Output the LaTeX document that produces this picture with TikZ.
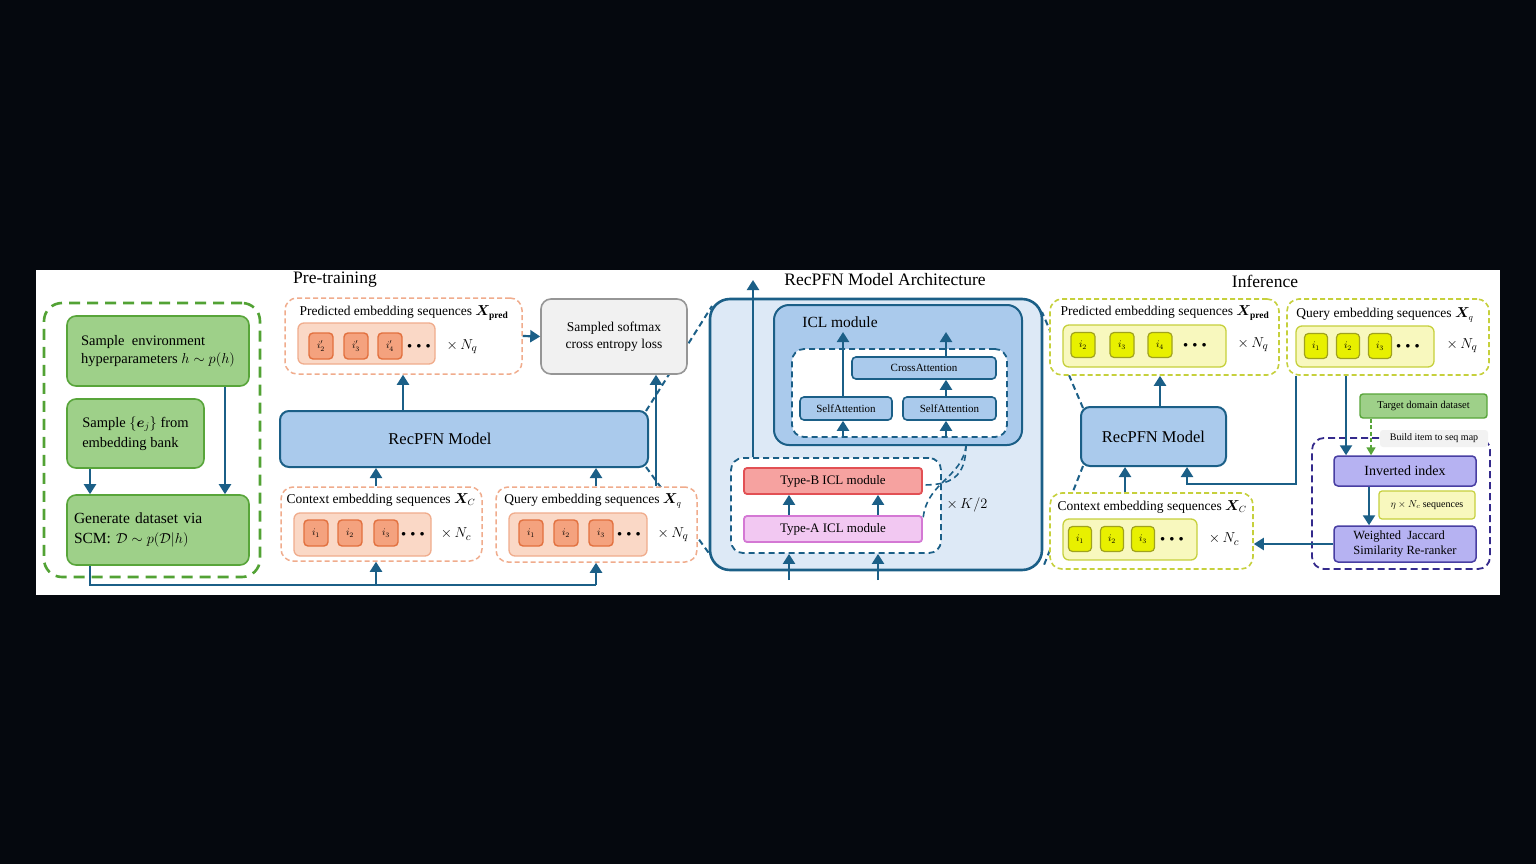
\documentclass[tikz,border=0pt]{standalone}
\usepackage{amsmath,bm}
\usepackage{fontspec}
\setmainfont{Liberation Serif}
\usetikzlibrary{arrows.meta}
\definecolor{bgk}{RGB}{5,8,14}
\definecolor{ablue}{RGB}{27,95,135}
\definecolor{gfill}{RGB}{158,208,137}
\definecolor{gbord}{RGB}{88,165,58}
\definecolor{gdash}{RGB}{82,162,52}
\definecolor{odash}{RGB}{240,172,140}
\definecolor{ofill}{RGB}{250,216,198}
\definecolor{osq}{RGB}{244,162,126}
\definecolor{osqb}{RGB}{226,112,62}
\definecolor{lossf}{RGB}{241,241,241}
\definecolor{lossb}{RGB}{150,150,150}
\definecolor{rfill}{RGB}{170,202,236}
\definecolor{archf}{RGB}{221,233,246}
\definecolor{tbf}{RGB}{246,162,160}
\definecolor{tbb}{RGB}{226,80,84}
\definecolor{taf}{RGB}{242,200,242}
\definecolor{tab}{RGB}{212,120,212}
\definecolor{ydash}{RGB}{198,208,60}
\definecolor{yfill}{RGB}{248,248,190}
\definecolor{ysq}{RGB}{232,240,0}
\definecolor{ysqb}{RGB}{160,162,30}
\definecolor{pfill}{RGB}{182,178,242}
\definecolor{pbord}{RGB}{72,62,162}
\definecolor{pdash}{RGB}{52,42,140}
\definecolor{lblg}{RGB}{242,242,242}
\newcommand{\bdots}{$\bullet\mkern5mu\bullet\mkern5mu\bullet$}
\begin{document}
\begin{tikzpicture}[x=1pt,y=-1pt,
  arr/.style={draw=ablue,line width=2.2pt,-{Triangle[width=12pt,length=10pt]}},
  ln/.style={draw=ablue,line width=2.2pt},
  zoomln/.style={draw=ablue,line width=2pt,dash pattern=on 6pt off 4pt},
  box/.style={rectangle,inner sep=0pt,align=center,font=\fontsize{12}{14}\selectfont},
  gbox/.style={box,draw=gbord,fill=gfill,line width=1.6pt,rounded corners=9pt,align=left},
  gdashbox/.style={box,draw=gdash,line width=2.6pt,dash pattern=on 11pt off 7pt,rounded corners=18pt},
  odashbox/.style={box,draw=odash,fill=white,line width=1.5pt,dash pattern=on 5pt off 3pt,rounded corners=12pt},
  oinner/.style={box,draw=odash,fill=ofill,line width=1.3pt,rounded corners=6pt},
  osqr/.style={box,draw=osqb,fill=osq,line width=1.4pt,rounded corners=4pt,minimum width=24pt,minimum height=26pt,font=\fontsize{10}{11}\selectfont},
  ydashbox/.style={box,draw=ydash,fill=white,line width=1.6pt,dash pattern=on 5pt off 3pt,rounded corners=12pt},
  yinner/.style={box,draw=ydash,fill=yfill,line width=1.3pt,rounded corners=6pt},
  ysqr/.style={box,draw=ysqb,fill=ysq,line width=1.2pt,rounded corners=4pt,minimum width=24pt,minimum height=25pt,font=\fontsize{10}{11}\selectfont},
  rbox/.style={box,draw=ablue,fill=rfill,line width=2pt,rounded corners=9pt},
  attn/.style={box,draw=ablue,fill=rfill,line width=1.6pt,rounded corners=4pt,font=\fontsize{11}{13}\selectfont},
  bdash/.style={box,draw=ablue,line width=1.8pt,dash pattern=on 6pt off 4pt,rounded corners=12pt,fill=white},
  pbox/.style={box,draw=pbord,fill=pfill,line width=1.5pt,rounded corners=4pt},
  ttl/.style={box,font=\fontsize{17.5}{20}\selectfont},
  captx/.style={box,font=\fontsize{13.5}{15}\selectfont},
  dotsx/.style={box,font=\fontsize{9}{10}\selectfont},
  tms/.style={box,font=\fontsize{15}{16}\selectfont}
]
\useasboundingbox (0,0) rectangle (1536,864);
\fill[bgk] (0,0) rectangle (1536,864);
\fill[white] (36,270) rectangle (1500,595);

% ================= Titles
\node[ttl] (tpre) at (335,280) {Pre-training};
\node[ttl] (tarch) at (885,280) {RecPFN Model Architecture};
\node[ttl] (tinf) at (1265,281) {Inference};

% ================= zoom lines (behind boxes)
\coordinate (zA) at (712,306);
\coordinate (zB) at (711,556);
\coordinate (zC) at (1042,312);
\coordinate (zD) at (1044,565);
\draw[zoomln] (646,411) -- (zA);
\draw[zoomln] (646,467) -- (zB);
\draw[zoomln] (1083,408) -- (zC);
\draw[zoomln] (1083,466) -- (zD);

% ================= Pre-training
\node[gdashbox,minimum width=216pt,minimum height=274pt] (gout) at (152,440) {};
\node[gbox,minimum width=182pt,minimum height=70pt,font=\fontsize{14.5}{18}\selectfont] (g1) at (158,351) {Sample~ environment\\hyperparameters $h\sim p(h)$};
\node[gbox,minimum width=137pt,minimum height=69pt,font=\fontsize{14.5}{20}\selectfont] (g2) at (135.5,433.5) {Sample $\{\bm{e}_j\}$ from\\embedding bank};
\node[gbox,minimum width=182pt,minimum height=70pt,font=\fontsize{15.5}{20}\selectfont,text width=168pt] (g3) at (158,530) {Generate dataset via\\SCM: $\mathcal{D}\sim p(\mathcal{D}|h)$};

\draw[arr] (g2.south -| 90,0) -- (g3.north -| 90,0);
\draw[arr] (g1.south -| 225,0) -- (g3.north -| 225,0);

% predicted (pre)
\node[odashbox,minimum width=237pt,minimum height=76pt] (predP) at (403.5,336) {};
\node[captx] (predPt) at (404,313) {Predicted embedding sequences $\bm{X}_{\mathbf{pred}}$};
\node[oinner,minimum width=137pt,minimum height=41pt] (predPi) at (366.5,343.5) {};
\node[osqr] (pp1) at (321,346) {$i'_2$};
\node[osqr] (pp2) at (356,346) {$i'_3$};
\node[osqr] (pp3) at (390,346) {$i'_4$};
\node[dotsx] (ppd) at (419,346) {\bdots};
\node[tms] (ppn) at (462,347) {$\times\, N_q$};

% loss
\node[box,draw=lossb,fill=lossf,line width=1.6pt,rounded corners=10pt,minimum width=146pt,minimum height=75pt,font=\fontsize{13.5}{17}\selectfont] (loss) at (614,336.5) {Sampled softmax\\cross entropy loss};

% RecPFN (pre)
\node[rbox,minimum width=368pt,minimum height=56pt] (recP) at (464,439) {};
\node[box,font=\fontsize{16.5}{18}\selectfont] (recPt) at (440,439) {RecPFN Model};

% context (pre)
\node[odashbox,minimum width=201pt,minimum height=74pt] (ctxP) at (381.5,524) {};
\node[captx] (ctxPt) at (381,500) {Context embedding sequences $\bm{X}_{C}$};
\node[oinner,minimum width=137pt,minimum height=43pt] (ctxPi) at (362.5,534.5) {};
\node[osqr] (cp1) at (316,533) {$i_1$};
\node[osqr] (cp2) at (350,533) {$i_2$};
\node[osqr] (cp3) at (386,533) {$i_3$};
\node[dotsx] (cpd) at (413,534) {\bdots};
\node[tms] (cpn) at (456,534) {$\times\, N_c$};

% query (pre)
\node[odashbox,minimum width=201pt,minimum height=75pt] (qryP) at (596.5,524.5) {};
\node[captx] (qryPt) at (593,501) {Query embedding sequences $\bm{X}_{q}$};
\node[oinner,minimum width=138pt,minimum height=43pt] (qryPi) at (578,534.5) {};
\node[osqr] (qp1) at (531,533) {$i_1$};
\node[osqr] (qp2) at (566,533) {$i_2$};
\node[osqr] (qp3) at (601,533) {$i_3$};
\node[dotsx] (qpd) at (629,534) {\bdots};
\node[tms] (qpn) at (673,535) {$\times\, N_q$};

% arrows (pre)
\draw[arr] (recP.north -| 403,0) -- (predP.south -| 403,0);
\draw[arr] (predP.east) -- (loss.west);
\draw[arr] (ctxP.north -| 376,0) -- (recP.south -| 376,0);
\draw[arr] (qryP.north -| 596,0) -- (recP.south -| 596,0);
\draw[arr] (qryP.north -| 656,0) -- (loss.south -| 656,0);
\coordinate (bl1) at (90,585);
\coordinate (bl2) at (596,585);
\draw[ln] (g3.south -| bl1) -- (bl1) -- (bl2);
\draw[arr] (376,585) -- (ctxP.south -| 376,0);
\draw[arr] (bl2) -- (qryP.south -| bl2);

% ================= Architecture
\node[box,draw=ablue,fill=archf,line width=2.6pt,rounded corners=20pt,minimum width=332pt,minimum height=271pt] (arch) at (876,434.5) {};
\node[box,draw=ablue,fill=rfill,line width=2pt,rounded corners=15pt,minimum width=248pt,minimum height=140pt] (icl) at (898,375) {};
\node[box,font=\fontsize{15.5}{17}\selectfont] (iclt) at (840,322) {ICL module};
\node[bdash,minimum width=215pt,minimum height=88pt] (icld) at (899.5,393) {};
\node[attn,minimum width=144pt,minimum height=22pt] (cross) at (924,368) {CrossAttention};
\node[attn,minimum width=92pt,minimum height=23pt] (sa1) at (846,408.5) {SelfAttention};
\node[attn,minimum width=93pt,minimum height=23pt] (sa2) at (949.5,408.5) {SelfAttention};
\coordinate (icltop1) at (843,332);
\coordinate (icltop2) at (946,332);
\draw[arr] (sa1.north -| icltop1) -- (icltop1);
\draw[arr] (cross.north -| icltop2) -- (icltop2);
\draw[arr] (sa2.north -| icltop2) -- (cross.south -| icltop2);
\draw[arr] (icld.south -| icltop1) -- (sa1.south -| icltop1);
\draw[arr] (icld.south -| icltop2) -- (sa2.south -| icltop2);

\coordinate (iclb) at (966,445);
\node[bdash,minimum width=210pt,minimum height=95pt] (loop) at (836,505.5) {};
\node[box,draw=tbb,fill=tbf,line width=1.8pt,rounded corners=3pt,minimum width=178pt,minimum height=26pt,font=\fontsize{13}{14}\selectfont] (typeB) at (833,481) {Type-B ICL module};
\node[box,draw=tab,fill=taf,line width=1.8pt,rounded corners=3pt,minimum width=178pt,minimum height=26pt,font=\fontsize{13}{14}\selectfont] (typeA) at (833,529) {Type-A ICL module};
\draw[zoomln,line width=1.6pt] (iclb) .. controls (966,478) and (950,485) .. (typeB.east |- 0,485);
\draw[zoomln,line width=1.6pt] (iclb) .. controls (963,478) and (925,482) .. (typeA.east |- 0,521);
\draw[arr] (typeA.north -| 789,0) -- (typeB.south -| 789,0);
\draw[arr] (typeA.north -| 878,0) -- (typeB.south -| 878,0);
\node[tms] (kk) at (967,505) {$\times\, K/2$};
\coordinate (archtop) at (753,280);
\draw[arr] (loop.north -| archtop) -- (archtop);
\coordinate (ain1) at (789,580);
\coordinate (ain2) at (878,580);
\draw[arr] (ain1) -- (loop.south -| ain1);
\draw[arr] (ain2) -- (loop.south -| ain2);

% ================= Inference
\node[ydashbox,minimum width=229pt,minimum height=76pt] (predI) at (1164.5,337) {};
\node[captx] (predIt) at (1165,313) {Predicted embedding sequences $\bm{X}_{\mathbf{pred}}$};
\node[yinner,minimum width=163pt,minimum height=42pt] (predIi) at (1144.5,346) {};
\node[ysqr] (pi1) at (1083,345) {$i_2$};
\node[ysqr] (pi2) at (1122,345) {$i_3$};
\node[ysqr] (pi3) at (1160,345) {$i_4$};
\node[dotsx] (pid) at (1195,345) {\bdots};
\node[tms] (pin) at (1253,345) {$\times\, N_q$};

\node[ydashbox,minimum width=202pt,minimum height=76pt] (qryI) at (1388,337) {};
\node[captx] (qryIt) at (1385,315) {Query embedding sequences $\bm{X}_{q}$};
\node[yinner,minimum width=138pt,minimum height=41pt] (qryIi) at (1365,346.5) {};
\node[ysqr,minimum width=23pt] (qi1) at (1316,346) {$i_1$};
\node[ysqr,minimum width=23pt] (qi2) at (1348,346) {$i_2$};
\node[ysqr,minimum width=23pt] (qi3) at (1380,346) {$i_3$};
\node[dotsx] (qid) at (1408,346) {\bdots};
\node[tms] (qin) at (1462,346) {$\times\, N_q$};

\node[rbox,minimum width=145pt,minimum height=59pt,font=\fontsize{16.5}{18}\selectfont] (recI) at (1153.5,436.5) {RecPFN Model};

\node[ydashbox,minimum width=203pt,minimum height=76pt] (ctxI) at (1151.5,531) {};
\node[captx] (ctxIt) at (1152,507) {Context embedding sequences $\bm{X}_{C}$};
\node[yinner,minimum width=134pt,minimum height=41pt] (ctxIi) at (1130,539.5) {};
\node[ysqr,minimum width=23pt] (ci1) at (1080,539) {$i_1$};
\node[ysqr,minimum width=23pt] (ci2) at (1112,539) {$i_2$};
\node[ysqr,minimum width=23pt] (ci3) at (1143,539) {$i_3$};
\node[dotsx] (cid) at (1172,539) {\bdots};
\node[tms] (cin) at (1224,539) {$\times\, N_c$};

\node[box,draw=pdash,line width=1.8pt,dash pattern=on 7pt off 4pt,rounded corners=12pt,minimum width=178pt,minimum height=131pt] (pout) at (1401,503.5) {};
\node[box,draw=gbord,fill=gfill,line width=1.4pt,rounded corners=3pt,minimum width=127pt,minimum height=24pt,font=\fontsize{10.5}{12}\selectfont] (target) at (1423.5,406) {Target domain dataset};
\node[box,fill=lblg,rounded corners=3pt,minimum width=108pt,minimum height=17pt,font=\fontsize{10}{11}\selectfont] (build) at (1434,438.5) {Build item to seq map};
\node[pbox,minimum width=142pt,minimum height=30pt,font=\fontsize{14}{16}\selectfont] (inv) at (1405,471) {Inverted index};
\node[box,draw=ydash,fill=yfill,line width=1.2pt,rounded corners=3pt,minimum width=96pt,minimum height=28pt,font=\fontsize{10}{12}\selectfont] (eta) at (1427,505) {$\eta\times N_c$ sequences};
\node[pbox,minimum width=142pt,minimum height=36pt,font=\fontsize{12.5}{14.5}\selectfont,align=left] (jac) at (1405,544) {Weighted~ Jaccard\\Similarity Re-ranker};

\coordinate (xq1) at (1296,484);
\coordinate (xq2) at (1187,484);
\draw[arr] (recI.north -| 1160,0) -- (predI.south -| 1160,0);
\draw[arr] (ctxI.north -| 1125,0) -- (recI.south -| 1125,0);
\draw[arr] (qryI.south -| xq1) -- (xq1) -- (xq2) -- (recI.south -| xq2);
\draw[arr] (qryI.south -| 1346,0) -- (inv.north -| 1346,0);
\draw[arr,draw=gbord,line width=1.6pt,dash pattern=on 4pt off 2.5pt,-{Triangle[width=9pt,length=8pt]}] (target.south -| 1371,0) -- (inv.north -| 1371,0);
\draw[arr] (inv.south -| 1369,0) -- (jac.north -| 1369,0);
\draw[arr] (jac.west) -- (ctxI.east |- jac.west);
\end{tikzpicture}
\end{document}
